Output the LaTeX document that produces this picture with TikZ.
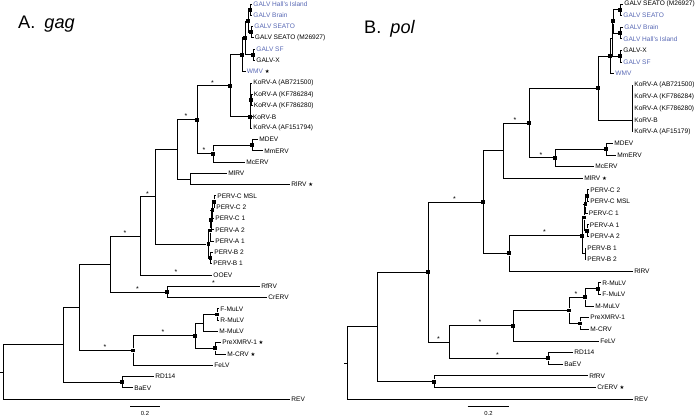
\documentclass[tikz,border=0pt]{standalone}
\usepackage{fontspec}
\setmainfont{Liberation Sans}
\newfontfamily\symbfont{DejaVu Sans}
\usetikzlibrary{positioning}
\definecolor{galvblue}{RGB}{88,104,180}
\newcommand{\lstar}{{\color{black}\symbfont\fontsize{4.6}{5}\selectfont ★}}
\tikzset{
  branch/.style={line width=0.7pt, black},
  leaf/.style={anchor=west, inner sep=1pt, font=\fontsize{5.6}{6}\selectfont},
  galv/.style={leaf, text=galvblue},
  sq/.style={rectangle, fill=black, minimum size=3.3pt, inner sep=0pt},
  ast/.style={above, inner sep=0.4pt, pos=.75, font=\fontsize{6}{6}\selectfont},
  scalelab/.style={below=4.5pt, inner sep=0pt, font=\fontsize{5}{5}\selectfont},
  paneltitle/.style={anchor=base west, inner sep=0pt, font=\fontsize{15.5}{16}\selectfont}
}

\begin{document}
\begin{tikzpicture}[x=0.03cm, y=-0.03cm]
  \useasboundingbox (0,0) rectangle (696,417);

  \node[paneltitle] (tA) at (18,28.5) {A.\hspace{0.5em}\textit{gag}};
  \node[paneltitle] (tB) at (364,33) {B.\hspace{0.5em}\textit{pol}};

  % gag tree
  \node[sq] (gA) at (250,9.7) {};
  \node[sq] (gB) at (251,32.3) {};
  \node[sq] (gC) at (248,21) {};
  \node[sq] (gD) at (253,54.9) {};
  \node[sq] (gE) at (245,37.9) {};
  \node[sq] (gF) at (242,54.8) {};
  \node[sq] (kA) at (251,100) {};
  \node[sq] (kB) at (250,116.9) {};
  \node[sq] (gG) at (230,85.9) {};
  \node[sq] (mA) at (252,145.2) {};
  \node[sq] (mB) at (213,153.6) {};
  \node[sq] (gH) at (197,119.8) {};
  \coordinate (rA) at (190,179);
  \coordinate (gI) at (177,149.4);
  \node[sq] (q1) at (214,201.6) {};
  \node[sq] (q2) at (212.5,210) {};
  \node[sq] (q3) at (211,219.9) {};
  \node[sq] (q4) at (210,230.5) {};
  \node[sq] (q5) at (210.5,258) {};
  \node[sq] (q6) at (208.5,244.3) {};
  \coordinate (gJ) at (155,196.9);
  \coordinate (gK) at (140,236);
  \node[sq] (fA) at (167,292) {};
  \coordinate (gL) at (110,264);
  \node[sq] (muA) at (217,314.5) {};
  \coordinate (muB) at (203,323);
  \node[sq] (muC) at (215,348.4) {};
  \node[sq] (muD) at (195,335.7) {};
  \node[sq] (muE) at (133,350.5) {};
  \coordinate (gM) at (79,307.2);
  \node[sq] (rdA) at (122,382.2) {};
  \coordinate (gN) at (63,344.7);
  \coordinate (gR) at (3,372);
  \coordinate (gS) at (0,372);

  \node[galv] (aHall) at (252,4) {GALV Hall's Island};
  \node[galv] (aBrain) at (252,15.3) {GALV Brain};
  \node[galv] (aSeato) at (253,26.6) {GALV SEATO};
  \node[leaf] (aM269) at (253.5,37.9) {GALV SEATO (M26927)};
  \node[galv] (aSF) at (255,49.2) {GALV SF};
  \node[leaf] (aX) at (255,60.5) {GALV-X};
  \node[galv] (aWMV) at (245.5,71.7) {WMV \lstar};
  \node[leaf] (aK1) at (252,83) {KoRV-A (AB721500)};
  \node[leaf] (aK2) at (252.5,94.3) {KoRV-A (KF786284)};
  \node[leaf] (aK3) at (252.5,105.6) {KoRV-A (KF786280)};
  \node[leaf] (aKB) at (251.5,116.9) {KoRV-B};
  \node[leaf] (aK4) at (252,128.2) {KoRV-A (AF151794)};
  \node[leaf] (aMDEV) at (258,139.5) {MDEV};
  \node[leaf] (aMm) at (263,150.8) {MmERV};
  \node[leaf] (aMc) at (245,162.1) {McERV};
  \node[leaf] (aMl) at (227,173.4) {MlRV};
  \node[leaf] (aRl) at (290,184.6) {RlRV \lstar};
  \node[leaf] (aPCM) at (216,195.9) {PERV-C MSL};
  \node[leaf] (aPC2) at (215,207.2) {PERV-C 2};
  \node[leaf] (aPC1) at (214,218.5) {PERV-C 1};
  \node[leaf] (aPA2) at (214,229.8) {PERV-A 2};
  \node[leaf] (aPA1) at (214,241.1) {PERV-A 1};
  \node[leaf] (aPB2) at (213,252.4) {PERV-B 2};
  \node[leaf] (aPB1) at (212,263.7) {PERV-B 1};
  \node[leaf] (aOOEV) at (212,275) {OOEV};
  \node[leaf] (aRf) at (260,286.3) {RfRV};
  \node[leaf] (aCr) at (267,297.6) {CrERV};
  \node[leaf] (aF) at (219,308.8) {F-MuLV};
  \node[leaf] (aR) at (219,320.1) {R-MuLV};
  \node[leaf] (aM) at (218,331.4) {M-MuLV};
  \node[leaf] (aPre) at (221,342.7) {PreXMRV-1 \lstar};
  \node[leaf] (aCRV) at (226,354) {M-CRV \lstar};
  \node[leaf] (aFe) at (213,365.3) {FeLV};
  \node[leaf] (aRD) at (154,376.6) {RD114};
  \node[leaf] (aBa) at (133,387.9) {BaEV};
  \node[leaf] (aREV) at (290,399.2) {REV};

  \draw[branch] (gA) |- (aHall.west) (gA) |- (aBrain.west);
  \draw[branch] (gB) |- (aSeato.west) (gB) |- (aM269.west);
  \draw[branch] (gC) |- (gA) (gC) |- (gB);
  \draw[branch] (gD) |- (aSF.west) (gD) |- (aX.west);
  \draw[branch] (gE) |- (gC) (gE) |- (gD);
  \draw[branch] (gF) |- (gE) (gF) |- (aWMV.west);
  \draw[branch] (kA) |- (aK2.west) (kA) |- (aK3.west);
  \draw[branch] (kB) |- (aK1.west) (kB) |- (kA) (kB) -- (aKB.west) (kB) |- (aK4.west);
  \draw[branch] (gG) |- (gF) (gG) |- (kB);
  \draw[branch] (mA) |- (aMDEV.west) (mA) |- (aMm.west);
  \draw[branch] (mB) |- (mA) (mB) |- (aMc.west);
  \draw[branch] (gH) |- node[ast] (s1) {*} (gG) (gH) |- node[ast] (s2) {*} (mB);
  \draw[branch] (rA) |- (aMl.west) (rA) |- (aRl.west);
  \draw[branch] (gI) |- node[ast] (s3) {*} (gH) (gI) |- (rA);
  \draw[branch] (q1) |- (aPCM.west) (q1) |- (aPC2.west);
  \draw[branch] (q2) |- (q1) (q2) |- (aPC1.west);
  \draw[branch] (q3) |- (q2) (q3) |- (aPA2.west);
  \draw[branch] (q4) |- (q3) (q4) |- (aPA1.west);
  \draw[branch] (q5) |- (aPB2.west) (q5) |- (aPB1.west);
  \draw[branch] (q6) |- (q4) (q6) |- (q5);
  \draw[branch] (gJ) |- (gI) (gJ) |- (q6);
  \draw[branch] (gK) |- node[ast] (s4) {*} (gJ) (gK) |- node[ast] (s5) {*} (aOOEV.west);
  \draw[branch] (fA) |- node[ast] (s6) {*} (aRf.west) (fA) |- (aCr.west);
  \draw[branch] (gL) |- node[ast] (s7) {*} (gK) (gL) |- node[ast] (s8) {*} (fA);
  \draw[branch] (muA) |- (aF.west) (muA) |- (aR.west);
  \draw[branch] (muB) |- (muA) (muB) |- (aM.west);
  \draw[branch] (muC) |- (aPre.west) (muC) |- (aCRV.west);
  \draw[branch] (muD) |- (muB) (muD) |- (muC);
  \draw[branch] (muE) |- node[ast] (s9) {*} (muD) (muE) |- (aFe.west);
  \draw[branch] (gM) |- (gL) (gM) |- node[ast] (s10) {*} (muE);
  \draw[branch] (rdA) |- (aRD.west) (rdA) |- (aBa.west);
  \draw[branch] (gN) |- (gM) (gN) |- (rdA);
  \draw[branch] (gR) |- (gN) (gR) |- (aREV.west);
  \draw[branch] (gS) -- (gR);

  \coordinate (sbA1) at (130,406);
  \coordinate (sbA2) at (160,406);
  \draw[branch] (sbA1) -- node[scalelab] (sbAt) {0.2} (sbA2);

  % pol tree
  \node[sq] (pA) at (620,9.8) {};
  \node[sq] (pB) at (620,33) {};
  \node[sq] (pC) at (613,21.4) {};
  \node[sq] (pD) at (620,56.3) {};
  \coordinate (pE) at (612,38.9);
  \node[sq] (pF) at (610,56.3) {};
  \coordinate (kR) at (632,120.2);
  \node[sq] (pG) at (598,88.2) {};
  \node[sq] (mR1) at (606,149.2) {};
  \node[sq] (mR2) at (555,157.9) {};
  \node[sq] (pH) at (529,123) {};
  \coordinate (pI) at (503,150.7);
  \node[sq] (r1) at (587,195.7) {};
  \node[sq] (r2) at (585.5,204.4) {};
  \node[sq] (r3) at (584,217.5) {};
  \node[sq] (r4) at (587,230.6) {};
  \coordinate (r5) at (585,253.8);
  \node[sq] (r6) at (582,235.7) {};
  \node[sq] (pJ) at (509,253.4) {};
  \node[sq] (pK) at (483,202) {};
  \node[sq] (uR1) at (598,288.7) {};
  \node[sq] (uR2) at (585,297.4) {};
  \node[sq] (uR3) at (580,323.5) {};
  \node[sq] (uR4) at (569,310.5) {};
  \node[sq] (uR5) at (513,325.7) {};
  \node[sq] (rdB) at (548,358.4) {};
  \coordinate (uR6) at (449,342);
  \node[sq] (pL) at (428,272) {};
  \node[sq] (fR) at (434,381.6) {};
  \coordinate (pM) at (377,326.8);
  \coordinate (pR) at (347,363);
  \coordinate (pS) at (344,363);

  \node[leaf] (bM269) at (623,4) {GALV SEATO (M26927)};
  \node[galv] (bSeato) at (622,15.6) {GALV SEATO};
  \node[galv] (bBrain) at (623,27.2) {GALV Brain};
  \node[galv] (bHall) at (622,38.9) {GALV Hall's Island};
  \node[leaf] (bX) at (622,50.5) {GALV-X};
  \node[galv] (bSF) at (622,62.1) {GALV SF};
  \node[galv] (bWMV) at (614,73.7) {WMV};
  \node[leaf] (bK1) at (633,85.3) {KoRV-A (AB721500)};
  \node[leaf] (bK2) at (633,96.9) {KoRV-A (KF786284)};
  \node[leaf] (bK3) at (633,108.6) {KoRV-A (KF786280)};
  \node[leaf] (bKB) at (633,120.2) {KoRV-B};
  \node[leaf] (bK4) at (633,131.8) {KoRV-A (AF15179)};
  \node[leaf] (bMDEV) at (613,143.4) {MDEV};
  \node[leaf] (bMm) at (616,155) {MmERV};
  \node[leaf] (bMc) at (594,166.6) {McERV};
  \node[leaf] (bMl) at (583,178.3) {MlRV \lstar};
  \node[leaf] (bPC2) at (589,189.9) {PERV-C 2};
  \node[leaf] (bPCM) at (589,201.5) {PERV-C MSL};
  \node[leaf] (bPC1) at (587.5,213.1) {PERV-C 1};
  \node[leaf] (bPA1) at (588.5,224.8) {PERV-A 1};
  \node[leaf] (bPA2) at (589,236.4) {PERV-A 2};
  \node[leaf] (bPB1) at (586,248) {PERV-B 1};
  \node[leaf] (bPB2) at (586,259.6) {PERV-B 2};
  \node[leaf] (bRl) at (633,271.2) {RlRV};
  \node[leaf] (bR) at (601,282.9) {R-MuLV};
  \node[leaf] (bF) at (601,294.5) {F-MuLV};
  \node[leaf] (bM) at (594,306.1) {M-MuLV};
  \node[leaf] (bPre) at (589,317.7) {PreXMRV-1};
  \node[leaf] (bCRV) at (589,329.3) {M-CRV};
  \node[leaf] (bFe) at (599,341) {FeLV};
  \node[leaf] (bRD) at (573,352.6) {RD114};
  \node[leaf] (bBa) at (563,364.2) {BaEV};
  \node[leaf] (bRf) at (588,375.8) {RfRV};
  \node[leaf] (bCr) at (596,387.4) {CrERV \lstar};
  \node[leaf] (bREV) at (633,399) {REV};

  \draw[branch] (pA) |- (bM269.west) (pA) |- (bSeato.west);
  \draw[branch] (pB) |- (bBrain.west) (pB) |- (bHall.west);
  \draw[branch] (pC) |- (pA) (pC) |- (pB);
  \draw[branch] (pD) |- (bX.west) (pD) |- (bSF.west);
  \draw[branch] (pE) |- (pC) (pE) |- (pD);
  \draw[branch] (pF) |- (pE) (pF) |- (bWMV.west);
  \draw[branch] (kR) |- (bK1.west) (kR) |- (bK2.west) (kR) |- (bK3.west) (kR) -- (bKB.west) (kR) |- (bK4.west);
  \draw[branch] (pG) |- (pF) (pG) |- (kR);
  \draw[branch] (mR1) |- (bMDEV.west) (mR1) |- (bMm.west);
  \draw[branch] (mR2) |- (mR1) (mR2) |- (bMc.west);
  \draw[branch] (pH) |- (pG) (pH) |- node[ast] (t1) {*} (mR2);
  \draw[branch] (pI) |- node[ast] (t2) {*} (pH) (pI) |- (bMl.west);
  \draw[branch] (r1) |- (bPC2.west) (r1) |- (bPCM.west);
  \draw[branch] (r2) |- (r1) (r2) |- (bPC1.west);
  \draw[branch] (r4) |- (bPA1.west) (r4) |- (bPA2.west);
  \draw[branch] (r3) |- (r2) (r3) |- (r4);
  \draw[branch] (r5) |- (bPB1.west) (r5) |- (bPB2.west);
  \draw[branch] (r6) |- (r3) (r6) |- (r5);
  \draw[branch] (pJ) |- node[ast] (t3) {*} (r6) (pJ) |- (bRl.west);
  \draw[branch] (pK) |- (pI) (pK) |- (pJ);
  \draw[branch] (uR1) |- (bR.west) (uR1) |- (bF.west);
  \draw[branch] (uR2) |- (uR1) (uR2) |- (bM.west);
  \draw[branch] (uR3) |- (bPre.west) (uR3) |- (bCRV.west);
  \draw[branch] (uR4) |- node[ast] (t4) {*} (uR2) (uR4) |- (uR3);
  \draw[branch] (uR5) |- (uR4) (uR5) |- (bFe.west);
  \draw[branch] (rdB) |- (bRD.west) (rdB) |- (bBa.west);
  \draw[branch] (uR6) |- node[ast] (t5) {*} (uR5) (uR6) |- node[ast] (t6) {*} (rdB);
  \draw[branch] (pL) |- node[ast] (t7) {*} (pK) (pL) |- node[ast] (t8) {*} (uR6);
  \draw[branch] (fR) |- (bRf.west) (fR) |- (bCr.west);
  \draw[branch] (pM) |- (pL) (pM) |- (fR);
  \draw[branch] (pR) |- (pM) (pR) |- (bREV.west);
  \draw[branch] (pS) -- (pR);

  \coordinate (sbB1) at (467.7,406);
  \coordinate (sbB2) at (509.3,406);
  \draw[branch] (sbB1) -- node[scalelab] (sbBt) {0.2} (sbB2);
\end{tikzpicture}
\end{document}
